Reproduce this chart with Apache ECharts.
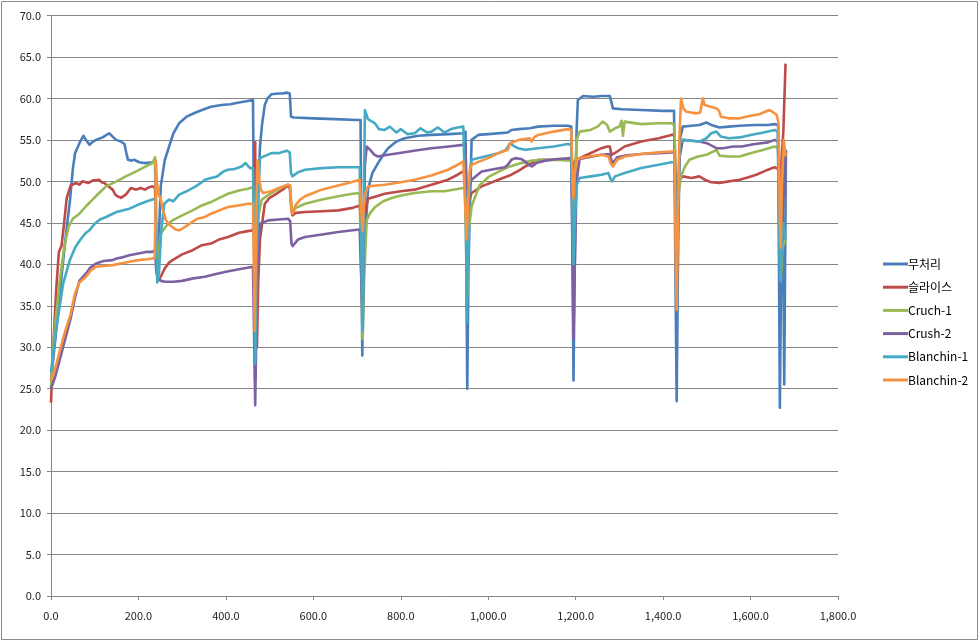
<!DOCTYPE html>
<html><head><meta charset="utf-8">
<script src="https://cdn.jsdelivr.net/npm/echarts@6/dist/echarts.min.js"></script>
<style>html,body{margin:0;padding:0;background:#fff}#c{width:980px;height:642px}</style>
</head><body><div id="c"></div>
<script>
const seriesNames = ['무처리','슬라이스','Cruch-1','Crush-2','Blanchin-1','Blanchin-2'];
const xTicks = [0,200,400,600,800,1000,1200,1400,1600,1800];
const yTicks = [0,5,10,15,20,25,30,35,40,45,50,55,60,65,70];

const s_muchuri = [[0,26],[8,30],[16,34],[25,39],[35,44],[43,47.5],[50,51.5],[55,53.4],[65,54.6],[74,55.5],[80,55],[88,54.4],[96,54.8],[103,55.0],[118,55.3],[133,55.8],[141,55.4],[149,55.0],[160,54.8],[168,54.5],[172,53.5],[176,52.6],[185,52.5],[190,52.6],[202,52.3],[215,52.2],[232,52.3],[238,52.5],[241,40],[244,39.5],[251,49.4],[260,52.5],[270,54.2],[280,55.8],[293,57.0],[310,57.8],[331,58.3],[350,58.7],[366,59.0],[390,59.2],[410,59.3],[430,59.5],[450,59.7],[462,59.8],[465,40],[467,26],[470,40],[475,50],[478,54.2],[483,57],[489,59.2],[495,60],[504,60.5],[520,60.6],[530,60.6],[539,60.7],[546,60.6],[549,57.8],[555,57.7],[600,57.6],[650,57.5],[700,57.4],[708,57.4],[710,40],[712,29],[715,40],[725,49],[735,51],[748,52.2],[760,53.2],[771,54],[790,54.8],[809,55.2],[840,55.5],[870,55.6],[910,55.7],[943,55.8],[948,56],[950,40],[952,25],[955,40],[962,55],[977,55.6],[1000,55.7],[1045,55.9],[1053,56.2],[1070,56.3],[1095,56.4],[1114,56.6],[1150,56.7],[1182,56.7],[1190,56.6],[1193,40],[1195,26],[1198,40],[1202,56],[1205,59.8],[1217,60.3],[1240,60.2],[1260,60.3],[1278,60.3],[1282,59.5],[1285,58.8],[1306,58.7],[1350,58.6],[1400,58.5],[1425,58.5],[1428,40],[1431,23.5],[1434,40],[1438,55],[1445,56.6],[1465,56.7],[1483,56.8],[1499,57.1],[1510,56.8],[1529,56.5],[1550,56.6],[1575,56.7],[1610,56.8],[1640,56.8],[1655,56.9],[1663,56.8],[1665,40],[1667,22.7],[1670,40],[1672,52],[1675,40],[1677,25.5],[1679,40],[1681,53.8]];

const s_slice = [[0,23.3],[5,30],[12,37],[18,41.5],[24,42.2],[30,45],[36,48],[45,49.5],[57,49.8],[65,49.6],[72,50.0],[85,49.8],[95,50.1],[110,50.2],[116,49.9],[122,49.8],[131,49.4],[141,49.0],[147,48.4],[152,48.2],[160,48.0],[171,48.4],[177,48.8],[183,49.2],[195,49.0],[205,49.2],[215,49.0],[225,49.3],[232,49.4],[238,49.2],[241,40],[245,38],[252,38.6],[260,39.5],[270,40.2],[278,40.5],[300,41.2],[324,41.7],[345,42.3],[366,42.5],[385,43.0],[405,43.3],[430,43.8],[450,44.0],[462,44.1],[465,50],[467,54.7],[469,35],[471,30],[474,38],[478,43],[489,47.3],[500,48],[515,48.5],[530,49],[539,49.4],[546,49.3],[550,46.5],[552,45.9],[560,46.2],[581,46.3],[620,46.4],[657,46.5],[690,46.8],[706,47.1],[709,47],[711,44],[714,45],[725,47.9],[745,48.2],[763,48.5],[800,48.8],[832,49],[870,49.6],[908,50.2],[930,50.8],[943,51.2],[948,51.3],[950,48],[952,47],[962,48.6],[985,49.4],[1023,50.2],[1053,50.8],[1070,51.3],[1085,51.8],[1100,52.2],[1114,52.6],[1150,52.6],[1182,52.6],[1190,52.7],[1193,52],[1195,51.5],[1198,52.5],[1209,52.8],[1230,53.3],[1259,54],[1272,54.2],[1278,54.2],[1282,53.2],[1285,53],[1295,53.6],[1312,54.2],[1350,54.8],[1390,55.2],[1419,55.6],[1426,55.6],[1429,50],[1431,48],[1434,50],[1445,50.6],[1465,50.4],[1483,50.6],[1495,50.2],[1510,49.9],[1529,49.8],[1550,50],[1575,50.2],[1595,50.5],[1613,50.8],[1635,51.3],[1655,51.7],[1663,51.5],[1666,50],[1670,52],[1675,56],[1680,64.2]];

const s_cruch1 = [[0,25],[5,30],[10,33],[20,38],[30,42],[40,44.5],[50,45.5],[65,46.1],[80,47],[95,47.8],[110,48.6],[126,49.4],[150,50.0],[171,50.6],[195,51.2],[217,51.8],[232,52.2],[238,52.9],[240,50],[242,40],[245,41],[251,43.7],[263,44.6],[278,45.3],[300,45.9],[324,46.5],[345,47.1],[366,47.5],[385,48],[405,48.5],[430,48.9],[450,49.1],[462,49.3],[465,45],[468,33],[471,40],[475,46],[482,47.8],[504,48.6],[525,49.2],[542,49.6],[547,49.5],[550,46.8],[553,46.3],[560,46.8],[581,47.3],[620,47.8],[657,48.2],[690,48.5],[706,48.6],[709,48.5],[711,35],[713,31],[716,38],[722,45.3],[730,46.2],[741,46.9],[760,47.6],[779,48],[800,48.3],[832,48.6],[870,48.8],[900,48.8],[943,49.2],[948,49.2],[950,40],[952,36],[955,44],[962,47],[980,49.5],[1000,50.5],[1025,51.2],[1050,51.8],[1075,52.2],[1100,52.5],[1150,52.6],[1190,52.5],[1193,48],[1195,45],[1198,50],[1202,55],[1209,56],[1234,56.2],[1250,56.6],[1262,57.2],[1272,56.8],[1278,56.0],[1281,55.8],[1290,56.4],[1300,56.6],[1305,57.3],[1308,55.5],[1312,57.2],[1350,56.9],[1390,57.0],[1419,57.0],[1426,56.8],[1429,48],[1431,45],[1434,48],[1441,50.6],[1450,51.8],[1460,52.6],[1480,53],[1499,53.2],[1515,53.6],[1522,53.8],[1529,53.1],[1550,53],[1575,53],[1600,53.4],[1630,53.8],[1655,54.2],[1663,54],[1666,45],[1669,38],[1673,42],[1680,43]];

const s_crush2 = [[0,25],[10,26.5],[20,28.5],[30,30.5],[45,33.5],[55,36],[65,38],[80,38.9],[90,39.6],[103,40.1],[120,40.4],[141,40.5],[150,40.7],[160,40.8],[179,41.1],[200,41.3],[220,41.5],[232,41.5],[238,41.7],[241,39],[245,38.3],[252,38],[260,37.9],[280,37.9],[300,38.0],[325,38.3],[352,38.5],[375,38.8],[400,39.1],[430,39.4],[462,39.7],[465,30],[467,23],[469,30],[472,40],[478,44.9],[497,45.3],[520,45.4],[542,45.5],[547,45.2],[550,42.5],[553,42.2],[565,43],[581,43.3],[620,43.6],[657,43.9],[690,44.1],[706,44.2],[709,44],[711,36],[713,33],[716,45],[718,52],[722,54.2],[730,53.8],[740,53.2],[748,53],[770,53.2],[794,53.4],[830,53.7],[870,54],[910,54.2],[943,54.4],[948,54.5],[950,50],[952,48],[955,49],[962,50.2],[985,51.2],[1015,51.5],[1038,51.7],[1045,52],[1053,52.6],[1062,52.8],[1075,52.7],[1084,52.4],[1092,52.0],[1100,51.8],[1110,52.2],[1130,52.5],[1160,52.7],[1190,52.8],[1193,40],[1195,31],[1198,40],[1202,50],[1209,52.7],[1259,53.2],[1278,53.3],[1282,52.5],[1285,52.2],[1295,52.9],[1312,53.1],[1350,53.3],[1390,53.4],[1419,53.5],[1426,53.5],[1429,47],[1431,43],[1434,48],[1438,53],[1445,55],[1465,54.9],[1483,54.8],[1500,54.6],[1522,54],[1537,54],[1560,54.2],[1580,54.2],[1610,54.5],[1640,54.7],[1655,55],[1663,54.8],[1666,45],[1669,40],[1673,45],[1680,53.8]];

const s_blanch1 = [[0,27],[10,31.5],[20,35],[28,37.7],[43,40.5],[55,42],[66,42.9],[80,43.8],[88,44.1],[100,44.9],[112,45.4],[126,45.7],[150,46.3],[179,46.7],[200,47.2],[220,47.6],[232,47.8],[238,47.9],[241,42],[243,37.8],[247,39],[252,44],[259,47.3],[270,47.8],[280,47.6],[293,48.4],[310,48.8],[331,49.4],[345,49.9],[352,50.2],[366,50.4],[380,50.6],[395,51.2],[405,51.4],[420,51.5],[436,51.8],[445,52.2],[455,51.6],[462,51.6],[465,40],[467,28],[470,40],[475,50],[478,52.8],[482,53],[504,53.4],[520,53.4],[539,53.7],[546,53.5],[549,51],[552,50.6],[565,51.1],[581,51.4],[620,51.6],[657,51.7],[690,51.7],[706,51.7],[709,51.6],[711,38],[713,32],[716,50],[718,58.6],[725,57.5],[741,57],[750,56.3],[763,56.2],[775,56.6],[790,55.9],[800,56.3],[815,55.7],[832,55.8],[845,56.4],[860,55.9],[870,56],[885,56.5],[900,55.9],[915,56.3],[930,56.5],[943,56.6],[946,56.8],[949,45],[951,33],[954,45],[958,51],[962,52.6],[985,52.9],[1000,53.1],[1023,53.4],[1040,53.8],[1050,54.6],[1053,54.8],[1060,54.2],[1068,54],[1084,53.8],[1100,53.9],[1114,54],[1150,54.2],[1182,54.5],[1190,54.4],[1193,45],[1195,40],[1198,45],[1202,49.5],[1209,50.4],[1235,50.6],[1259,50.8],[1275,51],[1279,50.4],[1283,50],[1290,50.6],[1312,51],[1350,51.6],[1390,52],[1419,52.3],[1426,52.3],[1429,45],[1431,40],[1434,48],[1438,54.5],[1445,55],[1465,54.9],[1483,54.8],[1499,55.2],[1510,55.8],[1522,56],[1532,55.4],[1550,55.2],[1575,55.3],[1600,55.6],[1630,55.9],[1655,56.2],[1662,56],[1665,45],[1668,38],[1671,42],[1675,45],[1680,43]];

const s_blanch2 = [[0,26],[10,27.5],[20,29.5],[30,31.5],[45,34],[55,36.5],[65,37.8],[80,38.5],[90,39.2],[103,39.7],[120,39.8],[141,39.9],[160,40.1],[179,40.3],[200,40.5],[220,40.6],[232,40.7],[237,40.8],[239,46],[240,52.5],[242,50],[246,48.5],[251,47.8],[256,46.5],[263,45.3],[270,44.8],[278,44.5],[285,44.2],[293,44.1],[300,44.3],[309,44.6],[320,45],[335,45.5],[352,45.7],[366,46.1],[385,46.5],[405,46.9],[430,47.1],[450,47.3],[462,47.3],[464,40],[466,32],[468,40],[470,48],[472,52.5],[474,52],[477,50],[480,49],[485,48.6],[504,48.8],[525,49.3],[542,49.6],[547,49.5],[550,46.5],[552,46.1],[560,47.2],[570,47.8],[581,48.2],[600,48.6],[619,49],[650,49.4],[680,49.8],[706,50.2],[709,50.1],[711,45],[713,44],[716,48],[725,49.4],[745,49.5],[763,49.6],[800,49.9],[832,50.2],[870,50.7],[908,51.4],[930,52],[943,52.4],[947,52.6],[949,45],[951,43],[954,48],[958,51.5],[962,52],[985,52.5],[1000,52.8],[1023,53.4],[1045,53.8],[1050,54.6],[1053,54.8],[1070,55],[1095,55.2],[1099,54.8],[1105,55.3],[1114,55.6],[1150,56],[1182,56.3],[1190,56.2],[1193,50],[1195,48],[1198,51],[1202,52.5],[1209,52.8],[1230,53],[1259,53.2],[1275,53],[1280,52.2],[1285,51.8],[1295,52.6],[1312,53],[1350,53.3],[1390,53.5],[1419,53.6],[1426,53.6],[1429,40],[1431,34.5],[1434,45],[1437,55],[1441,60],[1446,58.8],[1453,58.4],[1475,58.2],[1485,58.3],[1489,59.5],[1491,60],[1495,59.2],[1499,59],[1522,58.8],[1528,58.5],[1532,57.8],[1550,57.6],[1575,57.6],[1600,57.9],[1620,58.1],[1643,58.6],[1650,58.4],[1660,58],[1664,57],[1667,45],[1669,42],[1672,50],[1676,55],[1680,53]];

const seriesData = [s_muchuri, s_slice, s_cruch1, s_crush2, s_blanch1, s_blanch2];
const colors = ['#4A7EBB','#BE4B48','#98B954','#7D60A0','#46AAC5','#F69240'];

function fmt(v){
  const s = Math.abs(v).toFixed(1);
  const parts = s.split('.');
  parts[0] = parts[0].replace(/\B(?=(\d{3})+(?!\d))/g, ',');
  return (v<0?'-':'') + parts.join('.');
}

const chart = echarts.init(document.getElementById('c'), null, {renderer:'canvas'});
const font = '"Noto Sans CJK KR","Noto Sans",sans-serif';
chart.setOption({
  animation:false,
  backgroundColor:'#fff',
  color: colors,
  textStyle:{fontFamily:font},
  graphic:[{type:'rect',shape:{x:1.5,y:1.5,width:976,height:638},style:{fill:'none',stroke:'#8a8a8a',lineWidth:1},silent:true}],
  grid:{left:51,right:142,top:15.5,bottom:46,containLabel:false},
  legend:{
    orient:'vertical', left:878, top:252,
    itemWidth:25, itemHeight:3, itemGap:9.2, icon:'rect',
    textStyle:{fontSize:12, color:'#000', fontFamily:font, lineHeight:14, padding:[0,0,0,-5]},
    data: seriesNames
  },
  xAxis:{
    type:'value', min:xTicks[0], max:xTicks[xTicks.length-1], interval:200,
    axisLine:{show:true,onZero:false,lineStyle:{color:'#868686',width:1}},
    axisTick:{show:true,length:4,inside:false,lineStyle:{color:'#868686'}},
    axisLabel:{fontSize:11,color:'#222',margin:14,formatter:fmt,fontFamily:font},
    splitLine:{show:false}
  },
  yAxis:{
    type:'value', min:yTicks[0], max:yTicks[yTicks.length-1], interval:5,
    axisLine:{show:true,lineStyle:{color:'#868686',width:1}},
    axisTick:{show:true,length:4,lineStyle:{color:'#868686'}},
    axisLabel:{fontSize:11,color:'#222',margin:10,formatter:fmt,fontFamily:font},
    splitLine:{show:true,lineStyle:{color:'#868686',width:1}}
  },
  series: seriesNames.map((n,i)=>({
    name:n, type:'line', data:seriesData[i], showSymbol:false, symbol:'none',
    lineStyle:{width:2.6,color:colors[i],join:'round'}, itemStyle:{color:colors[i]},
    smooth:false, z:2+i
  }))
});
</script></body></html>
